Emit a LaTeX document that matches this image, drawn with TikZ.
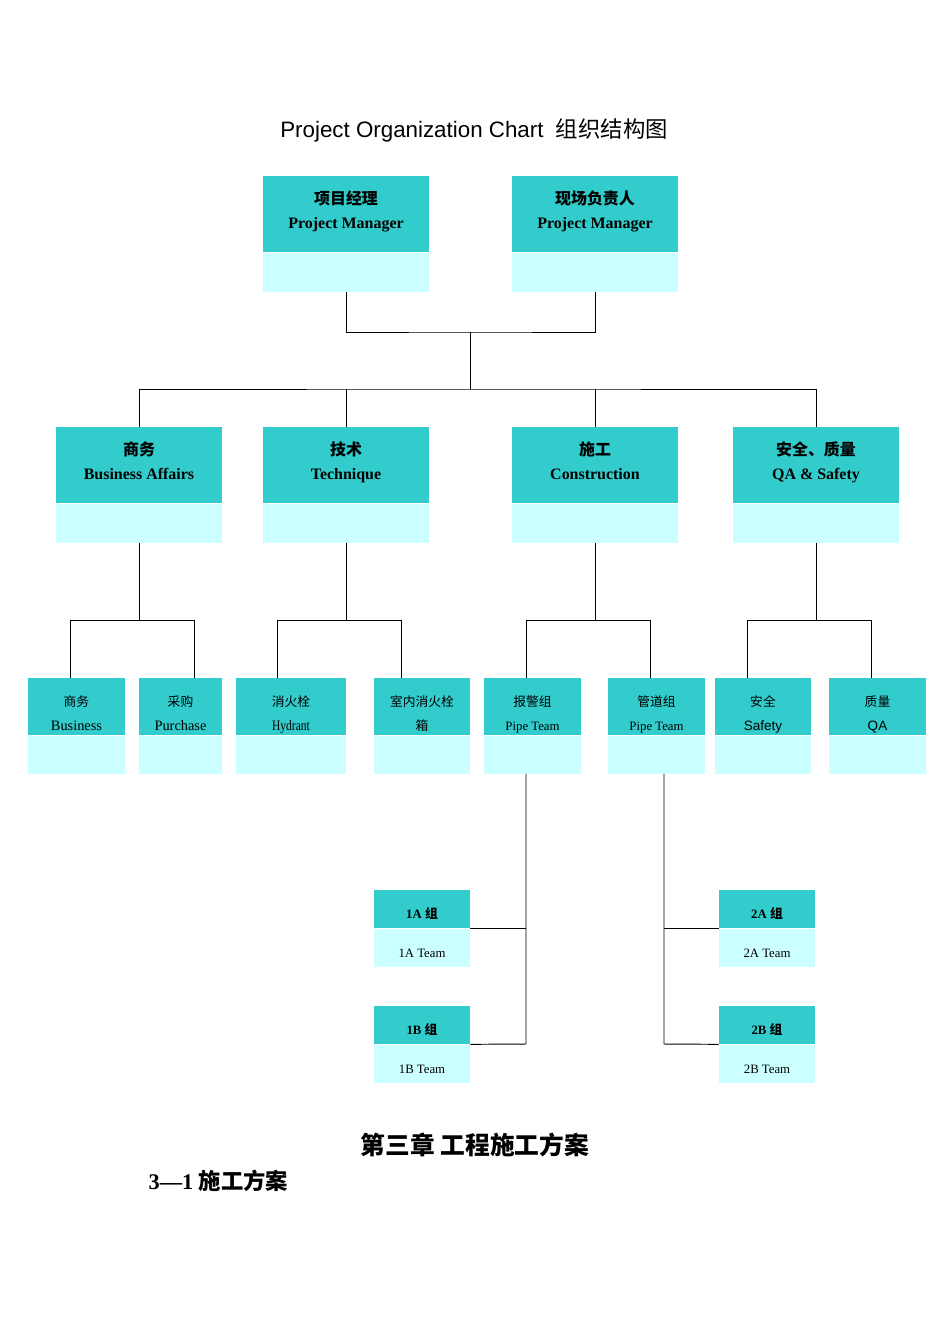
\documentclass[tikz,border=0pt]{standalone}
\usepackage{fontspec}
\setmainfont{Liberation Serif}
\setsansfont{Liberation Sans}
\newfontfamily\cjk{Noto Sans CJK SC}
\usetikzlibrary{positioning}

\newcommand{\px}{0.6266pt}
\definecolor{headcol}{HTML}{33CCCC}
\definecolor{footcol}{HTML}{CCFFFF}

\tikzset{
  head/.style={fill=headcol, inner sep=0pt, align=center},
  foot/.style={fill=footcol, inner sep=0pt, align=center},
  box/.style 2 args={minimum width=#1*\px, minimum height=#2*\px},
  struts/.style={execute at begin node=\strut, execute at end node=\strut},
  bigtext/.style={font=\bfseries\fontsize{10}{15}\selectfont, align=center, struts, yshift=0.3pt},
  smalltext/.style={font=\fontsize{9}{15}\selectfont, align=center, struts, yshift=-6.2pt},
  teamtext/.style={font=\fontsize{8}{10}\selectfont, align=center, struts, yshift=-3.9pt},
  link/.style={draw=black, line width=0.6pt},
}

\begin{document}
\begin{tikzpicture}[x=\px, y=-\px]

\fill[white] (0,0) rectangle (950,1344);

% title
\node[font=\sffamily\fontsize{14}{18}\selectfont] (title) at (474,130) {Project Organization Chart\ \ {\cjk 组织结构图}};

% managers
\node[head, box={166}{76}, label={[bigtext]center:{\cjk 项目经理}\\Project Manager}] (pmA) at (346,214) {};
\node[foot, box={166}{39}, below=0pt of pmA] (pmAf) {};
\node[head, box={166}{76}, label={[bigtext]center:{\cjk 现场负责人}\\Project Manager}] (pmB) at (595,214) {};
\node[foot, box={166}{39}, below=0pt of pmB] (pmBf) {};

% departments
\node[head, box={166}{76}, label={[bigtext]center:{\cjk 商务}\\Business Affairs}] (ba) at (139,465) {};
\node[foot, box={166}{39}, below=0pt of ba] (baf) {};
\node[head, box={166}{76}, label={[bigtext]center:{\cjk 技术}\\Technique}] (tech) at (346,465) {};
\node[foot, box={166}{39}, below=0pt of tech] (techf) {};
\node[head, box={166}{76}, label={[bigtext]center:{\cjk 施工}\\Construction}] (con) at (595,465) {};
\node[foot, box={166}{39}, below=0pt of con] (conf) {};
\node[head, box={166}{76}, label={[bigtext]center:{\cjk 安全、质量}\\QA \& Safety}] (qa) at (816,465) {};
\node[foot, box={166}{39}, below=0pt of qa] (qaf) {};

% groups
\node[head, box={97}{57}, label={[smalltext]center:{\cjk\fontsize{8}{15}\selectfont 商务}\\Business}] (bus) at (76.5,706.5) {};
\node[foot, box={97}{38}, below=0pt of bus] (busf) {};
\node[head, box={83}{57}, label={[smalltext]center:{\cjk\fontsize{8}{15}\selectfont 采购}\\Purchase}] (pur) at (180.5,706.5) {};
\node[foot, box={83}{38}, below=0pt of pur] (purf) {};
\node[head, box={110}{57}, label={[smalltext]center:{\cjk\fontsize{8}{15}\selectfont 消火栓}\\\scalebox{0.8}[1]{Hydrant}}] (hyd) at (291,706.5) {};
\node[foot, box={110}{38}, below=0pt of hyd] (hydf) {};
\node[head, box={96}{57}, label={[smalltext]center:{\cjk\fontsize{8}{15}\selectfont 室内消火栓}\\{\cjk\fontsize{8}{15}\selectfont 箱}}] (cab) at (422,706.5) {};
\node[foot, box={96}{38}, below=0pt of cab] (cabf) {};
\node[head, box={97}{57}, label={[smalltext]center:{\cjk\fontsize{8}{15}\selectfont 报警组}\\{\fontsize{8}{15}\selectfont Pipe Team}}] (alarm) at (532.5,706.5) {};
\node[foot, box={97}{38}, below=0pt of alarm] (alarmf) {};
\node[head, box={97}{57}, label={[smalltext]center:{\cjk\fontsize{8}{15}\selectfont 管道组}\\{\fontsize{8}{15}\selectfont Pipe Team}}] (pipe) at (656.5,706.5) {};
\node[foot, box={97}{38}, below=0pt of pipe] (pipef) {};
\node[head, box={96}{57}, label={[smalltext]center:{\cjk\fontsize{8}{15}\selectfont 安全}\\{\sffamily\fontsize{8.5}{15}\selectfont Safety}}] (saf) at (763,706.5) {};
\node[foot, box={96}{38}, below=0pt of saf] (saff) {};
\node[head, box={97}{57}, label={[smalltext]center:{\cjk\fontsize{8}{15}\selectfont 质量}\\{\sffamily\fontsize{8.5}{15}\selectfont QA}}] (qual) at (877.5,706.5) {};
\node[foot, box={97}{38}, below=0pt of qual] (qualf) {};

% teams
\node[head, box={96}{38}, label={[teamtext]center:\bfseries 1A {\cjk 组}}] (t1a) at (422,909) {};
\node[foot, box={96}{38}, below=0pt of t1a, label={[teamtext]center:1A Team}] (t1af) {};
\node[head, box={96}{38}, label={[teamtext]center:\bfseries 1B {\cjk 组}}] (t1b) at (422,1025) {};
\node[foot, box={96}{38}, below=0pt of t1b, label={[teamtext]center:1B Team}] (t1bf) {};
\node[head, box={96}{38}, label={[teamtext]center:\bfseries 2A {\cjk 组}}] (t2a) at (767,909) {};
\node[foot, box={96}{38}, below=0pt of t2a, label={[teamtext]center:2A Team}] (t2af) {};
\node[head, box={96}{38}, label={[teamtext]center:\bfseries 2B {\cjk 组}}] (t2b) at (767,1025) {};
\node[foot, box={96}{38}, below=0pt of t2b, label={[teamtext]center:2B Team}] (t2bf) {};

% top links
\coordinate (j0) at (470,332);
\coordinate (j1) at (470,389);
\draw[link] (pmAf.south) |- (j0) -| (pmBf.south);
\draw[link] (j0) -- (j1);
\draw[link] (ba.north) |- (j1) -| (qa.north);
\draw[link] (tech.north) -- (tech.north |- j1);
\draw[link] (con.north) -- (con.north |- j1);

% department links
\coordinate (baL) at (70,620);   \coordinate (baR) at (194,620);
\coordinate (techL) at (277,620); \coordinate (techR) at (401,620);
\coordinate (conL) at (526,620);  \coordinate (conR) at (650,620);
\coordinate (qaL) at (747,620);   \coordinate (qaR) at (871,620);
\draw[link] (baf.south) -- (baf.south |- baL);
\draw[link] (bus.north -| baL) -- (baL) -- (baR) -- (pur.north -| baR);
\draw[link] (techf.south) -- (techf.south |- techL);
\draw[link] (hyd.north -| techL) -- (techL) -- (techR) -- (cab.north -| techR);
\draw[link] (conf.south) -- (conf.south |- conL);
\draw[link] (alarm.north -| conL) -- (conL) -- (conR) -- (pipe.north -| conR);
\draw[link] (qaf.south) -- (qaf.south |- qaL);
\draw[link] (saf.north -| qaL) -- (qaL) -- (qaR) -- (qual.north -| qaR);

% team links
\coordinate (p1) at (526,1044);
\coordinate (p2) at (664,1044);
\draw[link] (alarmf.south -| p1) -- (p1) -- (t1b.south east);
\draw[link] (t1a.south east) -- (t1a.south east -| p1);
\draw[link] (pipef.south -| p2) -- (p2) -- (t2b.south west);
\draw[link] (t2a.south west) -- (t2a.south west -| p2);

% chapter heading
\node[font=\bfseries\fontsize{15.5}{18}\selectfont] (chap) at (475,1145) {{\cjk 第三章\ 工程施工方案}};
\node[font=\bfseries\fontsize{14}{18}\selectfont, anchor=west] (sec) at (143,1181) {3—1 {\cjk 施工方案}};

\end{tikzpicture}
\end{document}
